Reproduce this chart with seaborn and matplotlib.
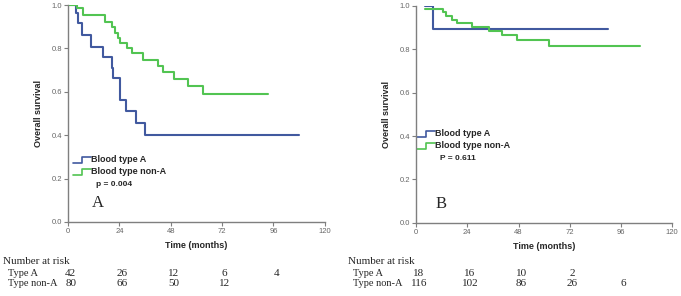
import pandas as pd
import matplotlib
matplotlib.use("Agg")
import matplotlib.pyplot as plt
import seaborn as sns

# ---- panel A: step curves
a_type_a_t = [0, 3.6, 4.8, 6.4, 10.7, 16.5, 20.4, 21.2, 24.3, 27.0, 31.6, 35.8, 108]
a_type_a_s = [1.0, 0.963, 0.917, 0.862, 0.808, 0.762, 0.708, 0.662, 0.562, 0.51, 0.454, 0.40, 0.40]
a_non_a_t = [0, 4.0, 6.9, 17.3, 20.4, 22.0, 23.5, 24.3, 27.4, 29.8, 35.2, 42.0, 44.4, 49.5, 55.9, 63.2, 93.6]
a_non_a_s = [1.0, 0.985, 0.954, 0.923, 0.9, 0.869, 0.846, 0.823, 0.8, 0.777, 0.746, 0.717, 0.69, 0.659, 0.628, 0.588, 0.588]

# ---- panel B
b_type_a_t = [4.2, 8.1, 90]
b_type_a_s = [1.0, 0.894, 0.894]
b_non_a_t = [4.2, 12.7, 14.0, 16.7, 19.0, 26.4, 34.2, 40.2, 47.2, 62.5, 105]
b_non_a_s = [0.985, 0.97, 0.954, 0.935, 0.92, 0.902, 0.886, 0.866, 0.843, 0.816, 0.816]

risk_months = [0, 24, 48, 72, 96]
a_risk_type_a = [42, 26, 12, 6, 4]
a_risk_non_a = [80, 66, 50, 12]
b_risk_type_a = [18, 16, 10, 2]
b_risk_non_a = [116, 102, 86, 26, 6]

groups = ["Blood type A", "Blood type non-A"]
blue = "#41599f"
green = "#52c452"
grey = "#7f7f7f"

sns.set_style("white")
plt.rcParams["font.family"] = ["Liberation Sans", "DejaVu Sans"]

fig = plt.figure(figsize=(6.81, 2.96), dpi=100)
ax_a = fig.add_axes([0.0999, 0.25, 0.377, 0.733])
ax_b = fig.add_axes([0.611, 0.247, 0.376, 0.733])


def make_df(t1, s1, t2, s2):
    d1 = pd.DataFrame({"time": t1, "surv": s1, "group": groups[0]})
    d2 = pd.DataFrame({"time": t2, "surv": s2, "group": groups[1]})
    return pd.concat([d1, d2], ignore_index=True)


def draw_panel(ax, df, letter, pval, leg_y, leg_x):
    sns.lineplot(data=df, x="time", y="surv", hue="group", palette=[blue, green],
                 drawstyle="steps-post", estimator=None, lw=1.5, ax=ax, legend=False)
    ax.set_xlim(0, 120)
    ax.set_ylim(0, 1.0)
    ax.set_xticks([0, 24, 48, 72, 96, 120])
    ax.set_yticks([0, 0.2, 0.4, 0.6, 0.8, 1.0])
    ax.set_yticklabels(["0.0", "0.2", "0.4", "0.6", "0.8", "1.0"])
    ax.tick_params(axis="both", direction="out", length=3, width=0.8, color=grey,
                   labelsize=5.5, labelcolor="#666666", pad=1.5, left=True, bottom=True)
    for side in ["top", "right"]:
        ax.spines[side].set_visible(False)
    for side in ["left", "bottom"]:
        ax.spines[side].set_color(grey)
        ax.spines[side].set_linewidth(1.0)
    ax.set_xlabel("Time (months)", fontsize=6.5, fontweight="bold", labelpad=4)
    ax.set_ylabel("Overall survival", fontsize=6.5, fontweight="bold", labelpad=6)
    ax.set_facecolor("white")

    # legend with little step icons
    for i, (name, col) in enumerate(zip(groups, [blue, green])):
        y = leg_y - i * 0.055
        ax.plot([leg_x, leg_x + 0.035, leg_x + 0.035, leg_x + 0.07],
                [y - 0.015, y - 0.015, y + 0.012, y + 0.012],
                color=col, lw=1.2, transform=ax.transAxes, clip_on=False)
        ax.text(leg_x + 0.07, y, name, transform=ax.transAxes, fontsize=6.5,
                fontweight="bold", va="center", ha="left")
    ax.text(leg_x + 0.09, leg_y - 0.115, pval, transform=ax.transAxes, fontsize=6,
            fontweight="bold", va="center", ha="left")
    ax.text(leg_x + 0.075, 0.05, letter, transform=ax.transAxes, fontsize=12,
            family="Liberation Serif", va="bottom", ha="left")


draw_panel(ax_a, make_df(a_type_a_t, a_type_a_s, a_non_a_t, a_non_a_s),
           "A", "p = 0.004", 0.287, 0.018)
draw_panel(ax_b, make_df(b_type_a_t, b_type_a_s, b_non_a_t, b_non_a_s),
           "B", "P = 0.611", 0.41, 0.002)


# number at risk table below each panel
def risk_table(ax, x0, rows):
    fig.text(x0, 1 - 262 / 296, "Number at risk", family="Liberation Serif",
             fontsize=8, va="center", ha="left")
    for k, (lab, vals) in enumerate(rows):
        yf = 1 - (273 + 10.5 * k) / 296
        fig.text(x0 + 0.008, yf, lab, family="Liberation Serif", fontsize=7.5,
                 va="center", ha="left")
        for m, v in zip(risk_months, vals):
            xd = ax.transData.transform((m, 0))[0]
            xf = fig.transFigure.inverted().transform((xd, 0))[0]
            fig.text(xf + 0.004, yf, str(v), family="Liberation Serif", fontsize=8,
                     va="center", ha="center")


risk_table(ax_a, 0.004, [("Type A", a_risk_type_a), ("Type non-A", a_risk_non_a)])
risk_table(ax_b, 0.511, [("Type A", b_risk_type_a), ("Type non-A", b_risk_non_a)])

fig.savefig("out.png", dpi=100, facecolor="white")
